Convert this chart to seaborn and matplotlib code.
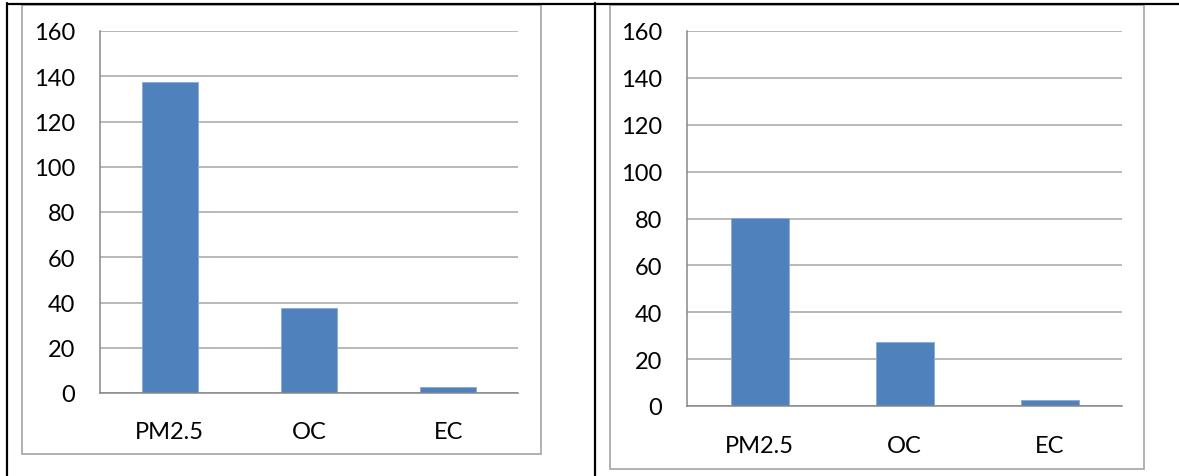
import matplotlib
matplotlib.use("Agg")
import matplotlib.pyplot as plt
import seaborn as sns
from matplotlib.lines import Line2D
from matplotlib.patches import Rectangle

# values
components = ["PM2.5", "OC", "EC"]
left_values = [137.5, 37.6, 2.8]
right_values = [80.3, 27.5, 2.6]
y_ticks = [0, 20, 40, 60, 80, 100, 120, 140, 160]

BAR = "#4F81BD"
AXIS_GRAY = "#878787"
GRID_GRAY = "#A6A6A6"

sns.set_style("white")
plt.rcParams['font.family'] = ['Lato', 'DejaVu Sans']

W, H = 1179, 477
fig = plt.figure(figsize=(W / 100, H / 100), dpi=100)


def px_axes(x0, x1, ytop, ybot):
    """Add axes placed by pixel coordinates (origin top-left)"""
    return fig.add_axes([x0 / W, 1 - ybot / H, (x1 - x0) / W, (ybot - ytop) / H])


def draw_panel(ax, values, xpad):
    sns.barplot(x=components, y=values, color=BAR, saturation=1, width=0.4,
                edgecolor="#8DAAD3", linewidth=0.6, ax=ax, zorder=3)
    ax.set_xlim(-0.5, 2.5)
    ax.set_ylim(0, 160)
    ax.set_yticks(y_ticks)
    ax.set_yticklabels([str(v) for v in y_ticks])

    # tick marks between categories, labels under the bars
    ax.set_xticks([-0.5, 0.5, 1.5, 2.5])
    ax.set_xticklabels(["", "", "", ""])
    ax.set_xticks([0, 1, 2], minor=True)
    ax.set_xticklabels(components, minor=True)
    ax.tick_params(axis="x", which="major", length=7, width=1, color=AXIS_GRAY, direction="out")
    ax.tick_params(axis="x", which="minor", length=0, pad=xpad, labelsize=17, labelcolor="black")
    ax.tick_params(axis="y", length=7, width=1, color=AXIS_GRAY, direction="out",
                   pad=11, labelsize=17, labelcolor="black")
    ax.set_xlabel("")
    ax.set_ylabel("")

    ax.yaxis.grid(True, color=GRID_GRAY, linewidth=1.1)
    ax.xaxis.grid(False)
    ax.set_axisbelow(True)
    for side in ["top", "right"]:
        ax.spines[side].set_visible(False)
    for side in ["left", "bottom"]:
        ax.spines[side].set_color(AXIS_GRAY)
        ax.spines[side].set_linewidth(1.1)
        ax.spines[side].set_zorder(4)


ax1 = px_axes(100, 518, 32, 394)
draw_panel(ax1, left_values, 20)

ax2 = px_axes(687, 1122, 32, 407)
draw_panel(ax2, right_values, 21)


def fig_line(xs, ys, color="black", lw=1.6):
    fig.add_artist(Line2D([x / W for x in xs], [1 - y / H for y in ys],
                          transform=fig.transFigure, color=color, linewidth=lw))


def fig_box(x0, y0, x1, y1):
    fig.add_artist(Rectangle((x0 / W, 1 - y1 / H), (x1 - x0) / W, (y1 - y0) / H,
                             transform=fig.transFigure, fill=False,
                             edgecolor="#A3A3A3", linewidth=1.2))


# chart area frames
fig_box(22, 6, 541, 455)
fig_box(610, 6, 1144, 470)

# table cell borders
fig_line([7, W], [4.5, 4.5])
fig_line([7, 7], [4, H])
fig_line([595, 595], [4, H])

fig.savefig("out.png", dpi=100)
